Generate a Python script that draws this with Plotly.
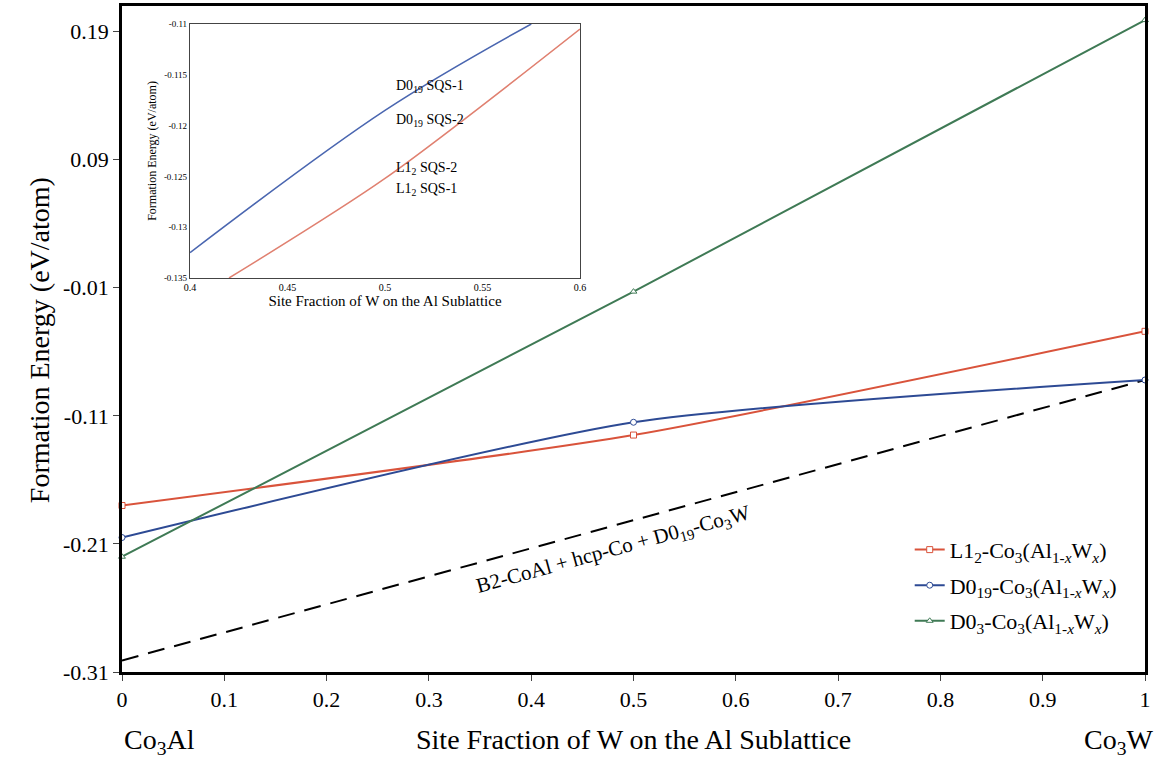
import plotly.graph_objects as go

# ---- data ----
x_main = [0, 0.5, 1]
l12_vals = [-0.18, -0.125, -0.044]
d019_vals = [-0.205, -0.115, -0.082]
d03_vals = [-0.22, -0.013, 0.199]
hull_x = [0, 1]
hull_vals = [-0.301, -0.082]

x_ticks = [0, 0.1, 0.2, 0.3, 0.4, 0.5, 0.6, 0.7, 0.8, 0.9, 1]
x_tick_labels = ["0", "0.1", "0.2", "0.3", "0.4", "0.5", "0.6", "0.7", "0.8", "0.9", "1"]
y_ticks = [-0.31, -0.21, -0.11, -0.01, 0.09, 0.19]
y_tick_labels = ["-0.31", "-0.21", "-0.11", "-0.01", "0.09", "0.19"]

# inset
inset_blue_x = [0.4, 0.5, 0.575]
inset_blue_y = [-0.1325, -0.1185, -0.11]
inset_red_x = [0.42, 0.5, 0.6]
inset_red_y = [-0.135, -0.1252, -0.1105]
inset_x_ticks = [0.4, 0.45, 0.5, 0.55, 0.6]
inset_x_labels = ["0.4", "0.45", "0.5", "0.55", "0.6"]
inset_y_ticks = [-0.135, -0.13, -0.125, -0.12, -0.115, -0.11]
inset_y_labels = ["-0.135", "-0.13", "-0.125", "-0.12", "-0.115", "-0.11"]

RED = "#d9533b"
BLUE = "#2d4a94"
GREEN = "#3f7a55"
FONT = "Liberation Serif"

fig = go.Figure()

fig.add_trace(go.Scatter(
    x=hull_x, y=hull_vals, mode="lines", showlegend=False,
    line=dict(color="black", width=2, dash="17px,10px"), hoverinfo="skip"))

series = [
    ("L1<sub>2</sub>-Co<sub>3</sub>(Al<sub>1-<i>x</i></sub>W<sub><i>x</i></sub>)", l12_vals, RED, "square", "g1"),
    ("D0<sub>19</sub>-Co<sub>3</sub>(Al<sub>1-<i>x</i></sub>W<sub><i>x</i></sub>)", d019_vals, BLUE, "circle", "g2"),
    ("D0<sub>3</sub>-Co<sub>3</sub>(Al<sub>1-<i>x</i></sub>W<sub><i>x</i></sub>)", d03_vals, GREEN, "triangle-up", "g3"),
]
for name, vals, col, sym, grp in series:
    fig.add_trace(go.Scatter(
        x=x_main, y=vals, name=name, mode="lines+markers", legendgroup=grp,
        line=dict(color=col, width=2, shape="spline", smoothing=0.6),
        marker=dict(symbol=sym, size=6, color="white", line=dict(width=1, color=col)),
        cliponaxis=False))

# inset traces
fig.add_trace(go.Scatter(
    x=inset_blue_x, y=inset_blue_y, xaxis="x2", yaxis="y2", mode="lines",
    line=dict(color="#4a66b0", width=1.5, shape="spline", smoothing=1.0), showlegend=False))
fig.add_trace(go.Scatter(
    x=inset_red_x, y=inset_red_y, xaxis="x2", yaxis="y2", mode="lines",
    line=dict(color="#e08070", width=1.5, shape="spline", smoothing=0.8), showlegend=False))

fig.update_layout(
    width=1156, height=764,
    margin=dict(l=122, r=11, t=6, b=92),
    paper_bgcolor="white", plot_bgcolor="white",
    font=dict(family=FONT, color="black", size=22),
    xaxis=dict(range=[0, 1], tickvals=x_ticks, ticktext=x_tick_labels,
               showgrid=False, zeroline=False, showline=True, mirror=True,
               linecolor="black", linewidth=2.5, ticks="outside", ticklen=6,
               tickwidth=1, tickfont=dict(size=22, family=FONT), automargin=False),
    yaxis=dict(range=[-0.31, 0.21], tickvals=y_ticks, ticktext=y_tick_labels,
               showgrid=False, zeroline=False, showline=True, mirror=True,
               linecolor="black", linewidth=2.5, ticks="outside", ticklen=6,
               tickwidth=1, tickfont=dict(size=22, family=FONT), automargin=False),
    xaxis2=dict(domain=[0.0665, 0.4477], anchor="y2", range=[0.4, 0.6],
                tickvals=inset_x_ticks, ticktext=inset_x_labels,
                showgrid=False, zeroline=False, showline=True, mirror=True,
                linecolor="#444444", linewidth=1.2, ticks="",
                tickfont=dict(size=10, family=FONT), automargin=False,
                title=dict(text="Site Fraction of W on the Al Sublattice",
                           font=dict(size=15, family=FONT), standoff=2)),
    yaxis2=dict(domain=[0.5916, 0.973], anchor="x2", range=[-0.135, -0.11],
                tickvals=inset_y_ticks, ticktext=inset_y_labels,
                showgrid=False, zeroline=False, showline=True, mirror=True,
                linecolor="#444444", linewidth=1.2, ticks="",
                tickfont=dict(size=9, family=FONT), automargin=False,
                title=dict(text="Formation Energy (eV/atom)",
                           font=dict(size=12, family=FONT), standoff=4)),
    legend=dict(x=0.77, y=0.215, xanchor="left", yanchor="top",
                bgcolor="rgba(255,255,255,0)", font=dict(size=22, family=FONT),
                itemwidth=30, tracegroupgap=4, traceorder="grouped"),
    showlegend=True,
)

anns = [
    dict(text="Formation Energy (eV/atom)", xref="paper", yref="paper",
         x=-0.080, y=0.4985, xanchor="center", yanchor="middle", textangle=-90,
         showarrow=False, font=dict(size=28)),
    dict(text="Site Fraction of W on the Al Sublattice", xref="paper", yref="paper",
         x=0.5, y=-0.102, xanchor="center", yanchor="middle", showarrow=False,
         font=dict(size=28)),
    dict(text="Co<sub>3</sub>Al", xref="paper", yref="paper",
         x=0.037, y=-0.104, xanchor="center", yanchor="middle", showarrow=False,
         font=dict(size=28)),
    dict(text="Co<sub>3</sub>W", xref="paper", yref="paper",
         x=0.974, y=-0.104, xanchor="center", yanchor="middle", showarrow=False,
         font=dict(size=28)),
    dict(text="B2-CoAl + hcp-Co + D0<sub>19</sub>-Co<sub>3</sub>W", xref="x", yref="y",
         x=0.48, y=-0.215, textangle=-15.3, showarrow=False, font=dict(size=21)),
    dict(text="D0<sub>19</sub> SQS-1", xref="x2", yref="y2", x=0.5046, y=-0.1162,
         xanchor="left", showarrow=False, font=dict(size=14)),
    dict(text="D0<sub>19</sub> SQS-2", xref="x2", yref="y2", x=0.5046, y=-0.1195,
         xanchor="left", showarrow=False, font=dict(size=14)),
    dict(text="L1<sub>2</sub> SQS-2", xref="x2", yref="y2", x=0.5046, y=-0.1242,
         xanchor="left", showarrow=False, font=dict(size=14)),
    dict(text="L1<sub>2</sub> SQS-1", xref="x2", yref="y2", x=0.5046, y=-0.1263,
         xanchor="left", showarrow=False, font=dict(size=14)),
]
fig.update_layout(annotations=anns)

fig.write_html("out.html", config={"displayModeBar": False},
               post_script="document.body.style.margin='0';")
